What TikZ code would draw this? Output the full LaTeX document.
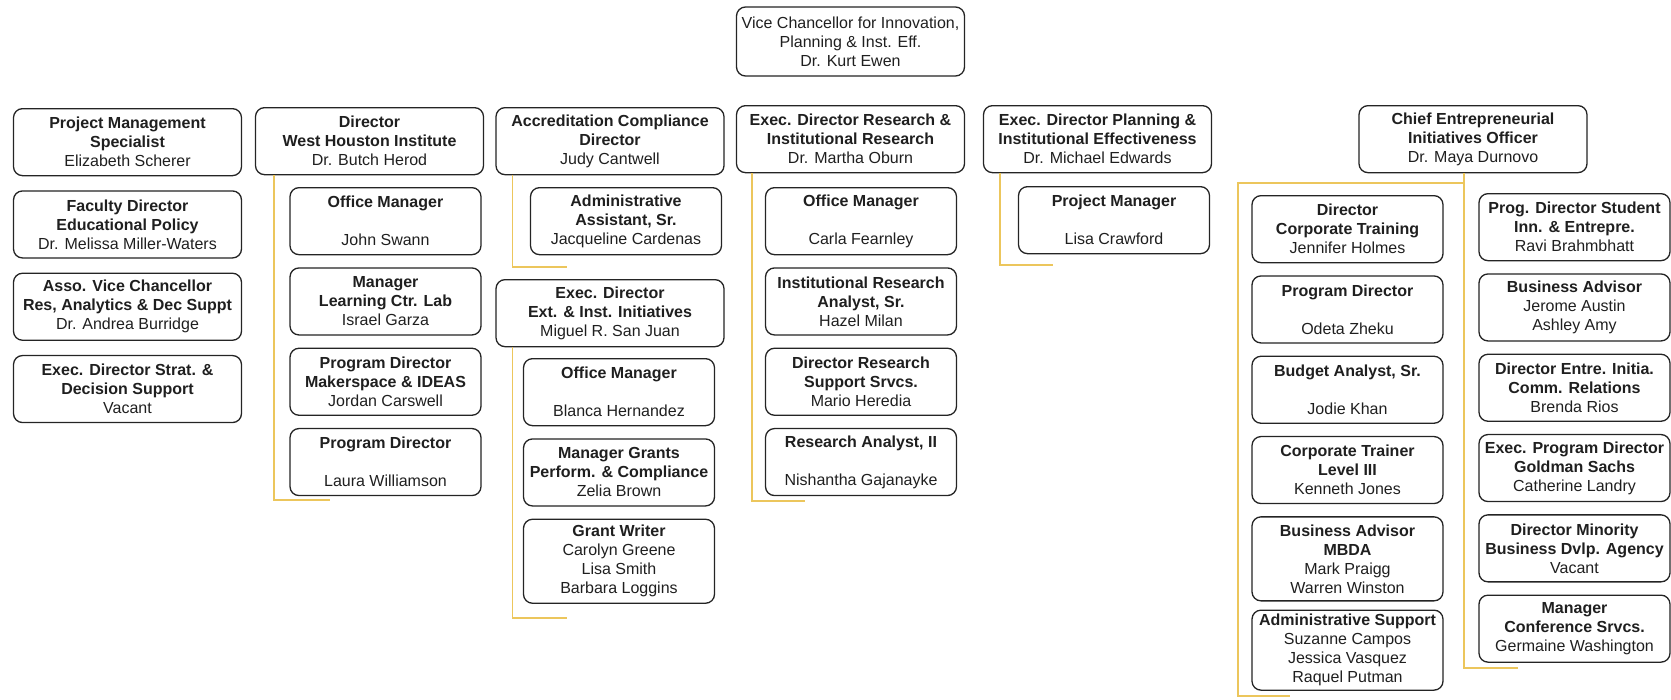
\documentclass[tikz,border=0pt]{standalone}
\usepackage{fontspec}
\setmainfont{Liberation Sans}
\usetikzlibrary{positioning}
\definecolor{boxline}{RGB}{36,36,36}
\definecolor{linkgold}{RGB}{236,198,92}

\begin{document}
\begin{tikzpicture}[x=1pt, y=-1pt, node distance=12pt,
  orgbox/.style={draw=boxline, line width=1.3pt, rounded corners=9pt, align=center, inner sep=0pt,
    minimum height=67pt, font=\fontsize{16}{19}\selectfont, text=black!88},
  headbox/.style={orgbox, minimum width=228pt},
  staffbox/.style={orgbox, minimum width=191pt},
  link/.style={linkgold, line width=1.6pt}]
  \useasboundingbox (0,0) rectangle (1671,699);

  \node[headbox, minimum height=69pt] (vc) at (850.5,41.5) {Vice Chancellor for Innovation,\\Planning \& Inst. Eff.\\Dr. Kurt Ewen};

  \node[headbox, anchor=north] (pms) at (127.5,108) {\textbf{Project Management}\\\textbf{Specialist}\\Elizabeth Scherer};
  \node[headbox, below=14pt of pms] (fdp) {\textbf{Faculty Director}\\\textbf{Educational Policy}\\Dr. Melissa Miller-Waters};
  \node[headbox, below=14pt of fdp] (avc) {\textbf{Asso. Vice Chancellor}\\\textbf{Res, Analytics \& Dec Suppt}\\Dr. Andrea Burridge};
  \node[headbox, below=14pt of avc] (eds) {\textbf{Exec. Director Strat. \&}\\\textbf{Decision Support}\\Vacant};

  \node[headbox, anchor=north] (whi) at (369.5,107) {\textbf{Director}\\\textbf{West Houston Institute}\\Dr. Butch Herod};
  \node[staffbox, anchor=north] (om1) at (385.5,187) {\textbf{Office Manager}\\[19pt]John Swann};
  \node[staffbox, below=of om1] (mlc) {\textbf{Manager}\\\textbf{Learning Ctr. Lab}\\Israel Garza};
  \node[staffbox, below=of mlc] (pdm) {\textbf{Program Director}\\\textbf{Makerspace \& IDEAS}\\Jordan Carswell};
  \node[staffbox, below=of pdm] (pdl) {\textbf{Program Director}\\[19pt]Laura Williamson};
  \coordinate (whiend) at (330,500);
  \draw[link] ([xshift=19pt]whi.south west) |- (whiend);

  \node[headbox, anchor=north] (acd) at (610,107) {\textbf{Accreditation Compliance}\\\textbf{Director}\\Judy Cantwell};
  \node[staffbox, anchor=north] (aas) at (626,187) {\textbf{Administrative}\\\textbf{Assistant, Sr.}\\Jacqueline Cardenas};
  \coordinate (acdend) at (567,267);
  \draw[link] ([xshift=17pt]acd.south west) |- (acdend);
  \node[headbox, anchor=north] (eei) at (610,279) {\textbf{Exec. Director}\\\textbf{Ext. \& Inst. Initiatives}\\Miguel R. San Juan};
  \node[staffbox, anchor=north] (om2) at (619,358) {\textbf{Office Manager}\\[19pt]Blanca Hernandez};
  \node[staffbox, below=of om2] (mgp) {\textbf{Manager Grants}\\\textbf{Perform. \& Compliance}\\Zelia Brown};
  \node[staffbox, below=of mgp, minimum height=84pt] (gw) {\textbf{Grant Writer}\\Carolyn Greene\\Lisa Smith\\Barbara Loggins};
  \coordinate (eeiend) at (567,618);
  \draw[link] ([xshift=17pt]eei.south west) |- (eeiend);

  \node[headbox, anchor=north] (eir) at (850.5,105) {\textbf{Exec. Director Research \&}\\\textbf{Institutional Research}\\Dr. Martha Oburn};
  \node[staffbox, anchor=north] (om3) at (861,187) {\textbf{Office Manager}\\[19pt]Carla Fearnley};
  \node[staffbox, below=of om3] (ira) {\textbf{Institutional Research}\\\textbf{Analyst, Sr.}\\Hazel Milan};
  \node[staffbox, below=of ira] (drs) {\textbf{Director Research}\\\textbf{Support Srvcs.}\\Mario Heredia};
  \node[staffbox, below=of drs] (ra2) {\textbf{Research Analyst, II}\\[19pt]Nishantha Gajanayke};
  \coordinate (eirend) at (805,501);
  \draw[link] ([xshift=16pt]eir.south west) |- (eirend);

  \node[headbox, anchor=north] (epi) at (1097.5,105) {\textbf{Exec. Director Planning \&}\\\textbf{Institutional Effectiveness}\\Dr. Michael Edwards};
  \node[staffbox, anchor=north] (pm) at (1114,186) {\textbf{Project Manager}\\[19pt]Lisa Crawford};
  \coordinate (epiend) at (1053,265);
  \draw[link] ([xshift=17pt]epi.south west) |- (epiend);

  \node[headbox, anchor=north] (ceo) at (1473,105) {\textbf{Chief Entrepreneurial}\\\textbf{Initiatives Officer}\\Dr. Maya Durnovo};
  \node[staffbox, anchor=north] (dct) at (1347.5,195) {\textbf{Director}\\\textbf{Corporate Training}\\Jennifer Holmes};
  \node[staffbox, below=of dct] (pdo) {\textbf{Program Director}\\[19pt]Odeta Zheku};
  \node[staffbox, below=of pdo] (bas) {\textbf{Budget Analyst, Sr.}\\[19pt]Jodie Khan};
  \node[staffbox, below=of bas] (ctl) {\textbf{Corporate Trainer}\\\textbf{Level III}\\Kenneth Jones};
  \node[staffbox, below=of ctl, minimum height=84pt] (bam) {\textbf{Business Advisor}\\\textbf{MBDA}\\Mark Praigg\\Warren Winston};
  \node[staffbox, below=8pt of bam, minimum height=80pt] (ads) {\textbf{Administrative Support}\\Suzanne Campos\\Jessica Vasquez\\Raquel Putman};
  \node[staffbox, anchor=north] (pds) at (1574.5,193) {\textbf{Prog. Director Student}\\\textbf{Inn. \& Entrepre.}\\Ravi Brahmbhatt};
  \node[staffbox, below=of pds] (bad) {\textbf{Business Advisor}\\Jerome Austin\\Ashley Amy};
  \node[staffbox, below=of bad] (dei) {\textbf{Director Entre. Initia.}\\\textbf{Comm. Relations}\\Brenda Rios};
  \node[staffbox, below=of dei] (epd) {\textbf{Exec. Program Director}\\\textbf{Goldman Sachs}\\Catherine Landry};
  \node[staffbox, below=of epd] (dmb) {\textbf{Director Minority}\\\textbf{Business Dvlp. Agency}\\Vacant};
  \node[staffbox, below=of dmb] (mcs) {\textbf{Manager}\\\textbf{Conference Srvcs.}\\Germaine Washington};
  \coordinate (ceojoin) at (1464,183);
  \coordinate (ceocorner) at (1238,183);
  \coordinate (ceoendl) at (1290,696);
  \coordinate (ceoendr) at (1518,668);
  \draw[link] ([xshift=-9pt]ceo.south) |- (ceoendr);
  \draw[link] (ceojoin) -- (ceocorner) |- (ceoendl);
\end{tikzpicture}
\end{document}
